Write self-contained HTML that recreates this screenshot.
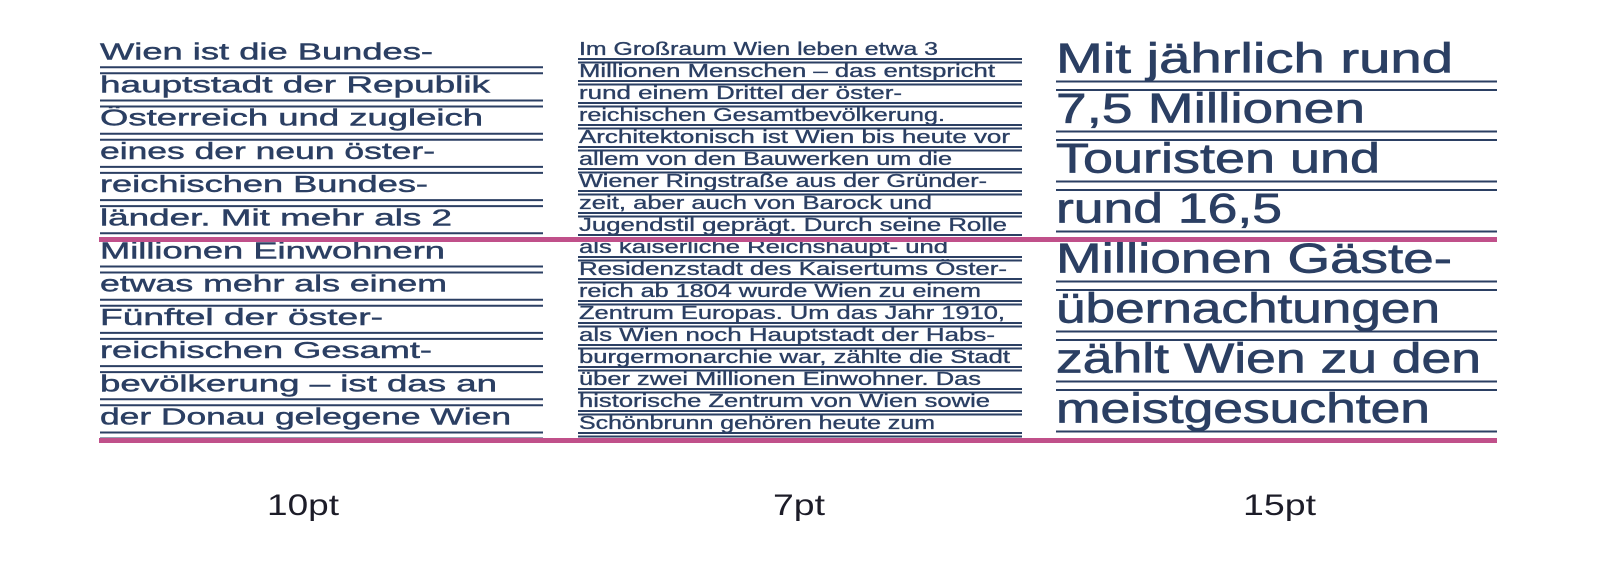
<!DOCTYPE html>
<html><head><meta charset="utf-8"><style>
html,body{margin:0;padding:0;background:#fff;}
svg{display:block}
text{font-family:"Liberation Sans",sans-serif;fill:#2b3f63;stroke:#2b3f63;stroke-width:0.45}
.l{font-size:23px}
.m{font-size:18.5px;stroke-width:0.35}
.r{font-size:42px;stroke-width:0.7}
.lab{font-size:30px;fill:#1c1c28;stroke:none}
line{stroke:#2b3f63;stroke-width:2}
</style></head><body>
<svg width="1600" height="563" viewBox="0 0 1600 563" xmlns="http://www.w3.org/2000/svg">
<g>
<line x1="100" x2="543" y1="67.3" y2="67.3"/><line x1="100" x2="543" y1="73.3" y2="73.3"/>
<line x1="100" x2="543" y1="100.5" y2="100.5"/><line x1="100" x2="543" y1="106.5" y2="106.5"/>
<line x1="100" x2="543" y1="133.7" y2="133.7"/><line x1="100" x2="543" y1="139.7" y2="139.7"/>
<line x1="100" x2="543" y1="166.9" y2="166.9"/><line x1="100" x2="543" y1="172.9" y2="172.9"/>
<line x1="100" x2="543" y1="200.1" y2="200.1"/><line x1="100" x2="543" y1="206.1" y2="206.1"/>
<line x1="100" x2="543" y1="233.3" y2="233.3"/><line x1="100" x2="543" y1="239.3" y2="239.3"/>
<line x1="100" x2="543" y1="266.5" y2="266.5"/><line x1="100" x2="543" y1="272.5" y2="272.5"/>
<line x1="100" x2="543" y1="299.7" y2="299.7"/><line x1="100" x2="543" y1="305.7" y2="305.7"/>
<line x1="100" x2="543" y1="332.9" y2="332.9"/><line x1="100" x2="543" y1="338.9" y2="338.9"/>
<line x1="100" x2="543" y1="366.1" y2="366.1"/><line x1="100" x2="543" y1="372.1" y2="372.1"/>
<line x1="100" x2="543" y1="399.3" y2="399.3"/><line x1="100" x2="543" y1="405.3" y2="405.3"/>
<line x1="100" x2="543" y1="432.5" y2="432.5"/><line x1="100" x2="543" y1="438.5" y2="438.5"/>
</g>
<g>
<text class="l" x="100" y="59.3" textLength="333" lengthAdjust="spacingAndGlyphs">Wien ist die Bundes-</text>
<text class="l" x="100" y="92.5" textLength="390" lengthAdjust="spacingAndGlyphs">hauptstadt der Republik</text>
<text class="l" x="100" y="125.7" textLength="383" lengthAdjust="spacingAndGlyphs">Österreich und zugleich</text>
<text class="l" x="100" y="158.9" textLength="335" lengthAdjust="spacingAndGlyphs">eines der neun öster-</text>
<text class="l" x="100" y="192.1" textLength="328" lengthAdjust="spacingAndGlyphs">reichischen Bundes-</text>
<text class="l" x="100" y="225.3" textLength="352" lengthAdjust="spacingAndGlyphs">länder. Mit mehr als 2</text>
<text class="l" x="100" y="258.5" textLength="345" lengthAdjust="spacingAndGlyphs">Millionen Einwohnern</text>
<text class="l" x="100" y="291.7" textLength="347" lengthAdjust="spacingAndGlyphs">etwas mehr als einem</text>
<text class="l" x="100" y="324.9" textLength="283" lengthAdjust="spacingAndGlyphs">Fünftel der öster-</text>
<text class="l" x="100" y="358.1" textLength="332" lengthAdjust="spacingAndGlyphs">reichischen Gesamt-</text>
<text class="l" x="100" y="391.3" textLength="397" lengthAdjust="spacingAndGlyphs">bevölkerung – ist das an</text>
<text class="l" x="100" y="424.5" textLength="411" lengthAdjust="spacingAndGlyphs">der Donau gelegene Wien</text>
</g>
<g>
<line x1="578" x2="1022" y1="59" y2="59"/><line x1="578" x2="1022" y1="62.5" y2="62.5"/>
<line x1="578" x2="1022" y1="81" y2="81"/><line x1="578" x2="1022" y1="84.5" y2="84.5"/>
<line x1="578" x2="1022" y1="103" y2="103"/><line x1="578" x2="1022" y1="106.5" y2="106.5"/>
<line x1="578" x2="1022" y1="125" y2="125"/><line x1="578" x2="1022" y1="128.5" y2="128.5"/>
<line x1="578" x2="1022" y1="147" y2="147"/><line x1="578" x2="1022" y1="150.5" y2="150.5"/>
<line x1="578" x2="1022" y1="169" y2="169"/><line x1="578" x2="1022" y1="172.5" y2="172.5"/>
<line x1="578" x2="1022" y1="191" y2="191"/><line x1="578" x2="1022" y1="194.5" y2="194.5"/>
<line x1="578" x2="1022" y1="213" y2="213"/><line x1="578" x2="1022" y1="216.5" y2="216.5"/>
<line x1="578" x2="1022" y1="235" y2="235"/><line x1="578" x2="1022" y1="238.5" y2="238.5"/>
<line x1="578" x2="1022" y1="257" y2="257"/><line x1="578" x2="1022" y1="260.5" y2="260.5"/>
<line x1="578" x2="1022" y1="279" y2="279"/><line x1="578" x2="1022" y1="282.5" y2="282.5"/>
<line x1="578" x2="1022" y1="301" y2="301"/><line x1="578" x2="1022" y1="304.5" y2="304.5"/>
<line x1="578" x2="1022" y1="323" y2="323"/><line x1="578" x2="1022" y1="326.5" y2="326.5"/>
<line x1="578" x2="1022" y1="345" y2="345"/><line x1="578" x2="1022" y1="348.5" y2="348.5"/>
<line x1="578" x2="1022" y1="367" y2="367"/><line x1="578" x2="1022" y1="370.5" y2="370.5"/>
<line x1="578" x2="1022" y1="389" y2="389"/><line x1="578" x2="1022" y1="392.5" y2="392.5"/>
<line x1="578" x2="1022" y1="411" y2="411"/><line x1="578" x2="1022" y1="414.5" y2="414.5"/>
<line x1="578" x2="1022" y1="433" y2="433"/><line x1="578" x2="1022" y1="436.5" y2="436.5"/>
</g>
<g>
<text class="m" x="579" y="55" textLength="359" lengthAdjust="spacingAndGlyphs">Im Großraum Wien leben etwa 3</text>
<text class="m" x="579" y="77" textLength="416" lengthAdjust="spacingAndGlyphs">Millionen Menschen – das entspricht</text>
<text class="m" x="579" y="99" textLength="323" lengthAdjust="spacingAndGlyphs">rund einem Drittel der öster-</text>
<text class="m" x="579" y="121" textLength="366" lengthAdjust="spacingAndGlyphs">reichischen Gesamtbevölkerung.</text>
<text class="m" x="579" y="143" textLength="431" lengthAdjust="spacingAndGlyphs">Architektonisch ist Wien bis heute vor</text>
<text class="m" x="579" y="165" textLength="373" lengthAdjust="spacingAndGlyphs">allem von den Bauwerken um die</text>
<text class="m" x="579" y="187" textLength="408" lengthAdjust="spacingAndGlyphs">Wiener Ringstraße aus der Gründer-</text>
<text class="m" x="579" y="209" textLength="353" lengthAdjust="spacingAndGlyphs">zeit, aber auch von Barock und</text>
<text class="m" x="579" y="231" textLength="428" lengthAdjust="spacingAndGlyphs">Jugendstil geprägt. Durch seine Rolle</text>
<text class="m" x="579" y="253" textLength="369" lengthAdjust="spacingAndGlyphs">als kaiserliche Reichshaupt- und</text>
<text class="m" x="579" y="275" textLength="428" lengthAdjust="spacingAndGlyphs">Residenzstadt des Kaisertums Öster-</text>
<text class="m" x="579" y="297" textLength="402" lengthAdjust="spacingAndGlyphs">reich ab 1804 wurde Wien zu einem</text>
<text class="m" x="579" y="319" textLength="426" lengthAdjust="spacingAndGlyphs">Zentrum Europas. Um das Jahr 1910,</text>
<text class="m" x="579" y="341" textLength="416" lengthAdjust="spacingAndGlyphs">als Wien noch Hauptstadt der Habs-</text>
<text class="m" x="579" y="363" textLength="431" lengthAdjust="spacingAndGlyphs">burgermonarchie war, zählte die Stadt</text>
<text class="m" x="579" y="385" textLength="402" lengthAdjust="spacingAndGlyphs">über zwei Millionen Einwohner. Das</text>
<text class="m" x="579" y="407" textLength="411" lengthAdjust="spacingAndGlyphs">historische Zentrum von Wien sowie</text>
<text class="m" x="579" y="429" textLength="356" lengthAdjust="spacingAndGlyphs">Schönbrunn gehören heute zum</text>
</g>
<g>
<line x1="1056" x2="1497" y1="81.5" y2="81.5"/><line x1="1056" x2="1497" y1="90" y2="90"/>
<line x1="1056" x2="1497" y1="131.5" y2="131.5"/><line x1="1056" x2="1497" y1="140" y2="140"/>
<line x1="1056" x2="1497" y1="181.5" y2="181.5"/><line x1="1056" x2="1497" y1="190" y2="190"/>
<line x1="1056" x2="1497" y1="231.5" y2="231.5"/><line x1="1056" x2="1497" y1="240" y2="240"/>
<line x1="1056" x2="1497" y1="281.5" y2="281.5"/><line x1="1056" x2="1497" y1="290" y2="290"/>
<line x1="1056" x2="1497" y1="331.5" y2="331.5"/><line x1="1056" x2="1497" y1="340" y2="340"/>
<line x1="1056" x2="1497" y1="381.5" y2="381.5"/><line x1="1056" x2="1497" y1="390" y2="390"/>
<line x1="1056" x2="1497" y1="431.5" y2="431.5"/><line x1="1056" x2="1497" y1="440" y2="440"/>
</g>
<g>
<text class="r" x="1056" y="72.7" textLength="397" lengthAdjust="spacingAndGlyphs">Mit jährlich rund</text>
<text class="r" x="1056" y="122.7" textLength="309" lengthAdjust="spacingAndGlyphs">7,5 Millionen</text>
<text class="r" x="1056" y="172.7" textLength="324" lengthAdjust="spacingAndGlyphs">Touristen und</text>
<text class="r" x="1056" y="222.7" textLength="226" lengthAdjust="spacingAndGlyphs">rund 16,5</text>
<text class="r" x="1056" y="272.7" textLength="396" lengthAdjust="spacingAndGlyphs">Millionen Gäste-</text>
<text class="r" x="1056" y="322.7" textLength="384" lengthAdjust="spacingAndGlyphs">übernachtungen</text>
<text class="r" x="1056" y="372.7" textLength="425" lengthAdjust="spacingAndGlyphs">zählt Wien zu den</text>
<text class="r" x="1056" y="422.7" textLength="374" lengthAdjust="spacingAndGlyphs">meistgesuchten</text>
</g>
<rect x="99" y="237" width="1398" height="5" fill="#c0508a"/>
<rect x="99" y="438" width="1398" height="5" fill="#c0508a"/>
<text class="lab" x="267" y="515" textLength="72" lengthAdjust="spacingAndGlyphs">10pt</text>
<text class="lab" x="773" y="515" textLength="52" lengthAdjust="spacingAndGlyphs">7pt</text>
<text class="lab" x="1243" y="515" textLength="73" lengthAdjust="spacingAndGlyphs">15pt</text>
</svg>
</body></html>
